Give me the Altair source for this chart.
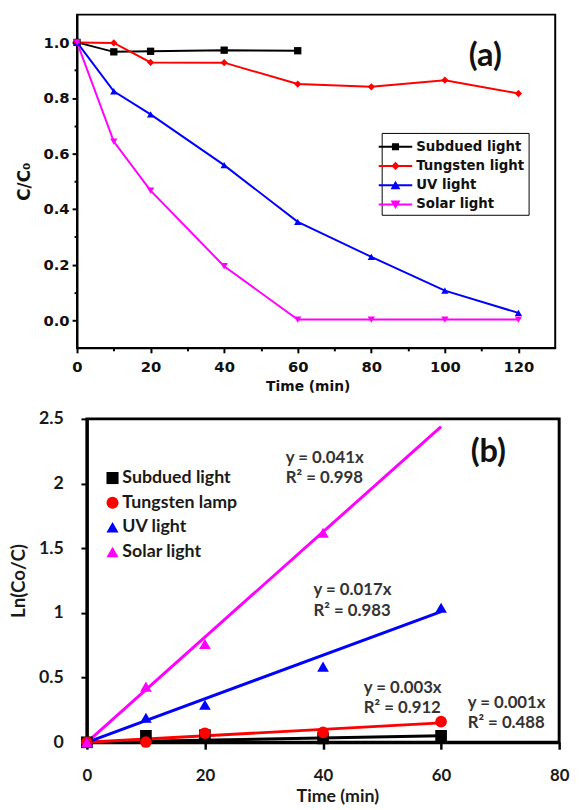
import altair as alt
import pandas as pd

# ---------------- panel (a) data ----------------
A_SERIES = ["Subdued light", "Tungsten light", "UV light", "Solar light"]
A_COLORS = ["#000000", "#ff0000", "#0000ff", "#ff00ff"]
A_SHAPES = ["square", "diamond", "triangle-up", "triangle-down"]

a_time_subdued = [0, 10, 20, 40, 60]
a_subdued = [1.0, 0.966, 0.968, 0.972, 0.97]
a_time = [0, 10, 20, 40, 60, 80, 100, 120]
a_tungsten = [1.0, 0.998, 0.928, 0.927, 0.850, 0.840, 0.864, 0.816]
a_uv = [1.0, 0.824, 0.741, 0.558, 0.354, 0.228, 0.106, 0.026]
a_solar = [1.0, 0.643, 0.466, 0.194, 0.002, 0.002, 0.002, 0.002]

a_xticks = [0, 10, 20, 30, 40, 50, 60, 70, 80, 90, 100, 110, 120]
a_yticks = [0.0, 0.1, 0.2, 0.3, 0.4, 0.5, 0.6, 0.7, 0.8, 0.9, 1.0]

a_tag_x = [111]
a_tag_y = [0.95]
a_tag_text = ["(a)"]

# ---------------- panel (b) data ----------------
B_SERIES = ["Subdued light", "Tungsten lamp", "UV light", "Solar light"]
B_COLORS = ["#000000", "#ff0000", "#0000ff", "#ff00ff"]
B_SHAPES = ["square", "circle", "triangle-up", "triangle-up"]

b_time = [0, 10, 20, 40, 60]
b_subdued = [0.0, 0.05, 0.055, 0.03, 0.05]
b_tungsten = [0.0, 0.002, 0.07, 0.076, 0.16]
b_uv = [0.0, 0.19, 0.29, 0.585, 1.04]
b_time_solar = [0, 10, 20, 40]
b_solar = [0.0, 0.43, 0.76, 1.62]

b_fit_time = [0, 60]
b_fit_subdued = [0.0, 0.05]
b_fit_tungsten = [0.0, 0.15]
b_fit_uv = [0.0, 1.01]
b_fit_solar = [0.0, 2.44]

b_xticks = [0, 20, 40, 60, 80]
b_yticks = [0, 0.5, 1, 1.5, 2, 2.5]

b_note_x = [33.7, 33.7, 38.4, 38.4, 46.9, 46.9, 64.5, 64.5]
b_note_y = [2.195, 2.04, 1.18, 1.015, 0.42, 0.265, 0.305, 0.145]
b_note_text = ["y = 0.041x", "R\u00b2 = 0.998", "y = 0.017x", "R\u00b2 = 0.983",
               "y = 0.003x", "R\u00b2 = 0.912", "y = 0.001x", "R\u00b2 = 0.488"]

b_tag_x = [68]
b_tag_y = [2.24]
b_tag_text = ["(b)"]

# legend glyphs for panel (a): line with marker in the middle (unit = 10 px)
A_LEGEND_PATHS = [
    "M-2.6,0M-1.7,-0.1H1.7V0.1H-1.7ZM-0.36,-0.36H0.36V0.36H-0.36Z",
    "M-2.6,0M-1.7,-0.1H1.7V0.1H-1.7ZM0,-0.42L0.42,0L0,0.42L-0.42,0Z",
    "M-2.6,0M-1.7,-0.1H1.7V0.1H-1.7ZM0,-0.46L0.5,0.4H-0.5Z",
    "M-2.6,0M-1.7,-0.1H1.7V0.1H-1.7ZM0,0.46L-0.5,-0.4H0.5Z",
]

FA = "DejaVu Sans"
FB = "Lato"

# ---------------- build panel (a) ----------------
rows = []
for name, xs, ys in [(A_SERIES[0], a_time_subdued, a_subdued),
                     (A_SERIES[1], a_time, a_tungsten),
                     (A_SERIES[2], a_time, a_uv),
                     (A_SERIES[3], a_time, a_solar)]:
    for x, y in zip(xs, ys):
        rows.append({"series": name, "time": x, "value": y})
df_a = pd.DataFrame(rows)
df_a_tag = pd.DataFrame({"time": a_tag_x, "value": a_tag_y, "text": a_tag_text})

xa = alt.X("time:Q", scale=alt.Scale(domain=[0, 130], nice=False, zero=False),
           axis=alt.Axis(values=a_xticks, title="Time (min)", labelFlush=False,
                         labelExpr="datum.value % 20 == 0 ? datum.label : ''",
                         tickSize={"condition": {"test": "datum.value % 20 != 0", "value": 3}, "value": 5},
                         tickColor="black", tickWidth=2, domainColor="black", domainWidth=2,
                         labelFont=FA, labelFontSize=15, labelFontWeight="bold", labelColor="#111",
                         labelPadding=7, grid=False,
                         titleFont=FA, titleFontSize=14, titleFontWeight="bold", titleColor="#111",
                         titlePadding=5, titleX=234))
ya = alt.Y("value:Q", scale=alt.Scale(domain=[-0.1, 1.1], nice=False, zero=False),
           axis=alt.Axis(values=a_yticks, title="C/C\u2080", labelFlush=False,
                         labelExpr="round(datum.value*10) % 2 == 0 ? format(datum.value, '.1f') : ''",
                         tickSize={"condition": {"test": "round(datum.value*10) % 2 == 1", "value": 3}, "value": 5},
                         tickColor="black", tickWidth=2, domainColor="black", domainWidth=2,
                         labelFont=FA, labelFontSize=15, labelFontWeight="bold", labelColor="#111",
                         labelPadding=3, grid=False,
                         titleFont=FA, titleFontSize=17, titleFontWeight="bold", titleColor="#111",
                         titlePadding=10))

col_a = alt.Color("series:N", scale=alt.Scale(domain=A_SERIES, range=A_COLORS), legend=None)

lines_a = alt.Chart(df_a).mark_line(strokeWidth=2).encode(x=xa, y=ya, color=col_a)
points_a = alt.Chart(df_a).mark_point(filled=True, size=55, opacity=1).encode(
    x=xa, y=ya, color=col_a,
    shape=alt.Shape("series:N", scale=alt.Scale(domain=A_SERIES, range=A_SHAPES), legend=None))

leg_a = dict(orient="none", legendX=309, legendY=120, title=None,
             strokeColor="black", padding=4, symbolSize=400, symbolStrokeWidth=0,
             symbolOpacity=1, labelFont=FA, labelFontSize=13.5, labelFontWeight="bold",
             labelColor="#111", labelOffset=11, rowPadding=2.5)
legend_a = alt.Chart(df_a).mark_point(filled=True, opacity=0).encode(
    x=xa, y=ya,
    color=alt.Color("series:N", scale=alt.Scale(domain=A_SERIES, range=A_COLORS), legend=alt.Legend(**leg_a)),
    shape=alt.Shape("series:N", scale=alt.Scale(domain=A_SERIES, range=A_LEGEND_PATHS), legend=alt.Legend(**leg_a)))

tag_a = alt.Chart(df_a_tag).mark_text(font=FB, fontSize=33, fontWeight="bold", color="#111",
                                     align="center", baseline="middle").encode(x=xa, y=ya, text="text:N")

chart_a = alt.layer(lines_a, points_a, legend_a, tag_a).resolve_scale(
    color="independent", shape="independent").properties(
    width=485, height=338, view=alt.ViewBackground(stroke="black", strokeWidth=2))

# ---------------- build panel (b) ----------------
rows = []
for name, xs, ys in [(B_SERIES[0], b_time, b_subdued),
                     (B_SERIES[1], b_time, b_tungsten),
                     (B_SERIES[2], b_time, b_uv),
                     (B_SERIES[3], b_time_solar, b_solar)]:
    for x, y in zip(xs, ys):
        rows.append({"series": name, "time": x, "value": y})
df_b = pd.DataFrame(rows)

rows = []
for name, ys in [(B_SERIES[0], b_fit_subdued), (B_SERIES[1], b_fit_tungsten),
                 (B_SERIES[2], b_fit_uv), (B_SERIES[3], b_fit_solar)]:
    for x, y in zip(b_fit_time, ys):
        rows.append({"series": name, "time": x, "value": y})
df_b_fit = pd.DataFrame(rows)
df_b_note = pd.DataFrame({"time": b_note_x, "value": b_note_y, "text": b_note_text})
df_b_tag = pd.DataFrame({"time": b_tag_x, "value": b_tag_y, "text": b_tag_text})

xb = alt.X("time:Q", scale=alt.Scale(domain=[0, 80], nice=False, zero=False),
           axis=alt.Axis(values=b_xticks, title="Time (min)", labelFlush=False,
                         tickSize=7, tickColor="black", tickWidth=2.5,
                         domainColor="black", domainWidth=3,
                         labelFont=FB, labelFontSize=17, labelFontWeight="bold", labelColor="#1a1a1a",
                         labelPadding=19, grid=False,
                         titleFont=FB, titleFontSize=18, titleFontWeight="bold", titleColor="#1a1a1a",
                         titlePadding=4, titleX=254))
yb = alt.Y("value:Q", scale=alt.Scale(domain=[0, 2.5], nice=False, zero=False),
           axis=alt.Axis(values=b_yticks, title="Ln(Co/C)", format="~g", labelFlush=False,
                         tickSize=6, tickColor="black", tickWidth=2,
                         domainColor="black", domainWidth=3,
                         labelFont=FB, labelFontSize=18, labelFontWeight="bold", labelColor="#1a1a1a",
                         labelPadding=18, grid=False,
                         titleFont=FB, titleFontSize=19, titleFontWeight="bold", titleColor="#1a1a1a",
                         titlePadding=10))

col_b_plain = alt.Color("series:N", scale=alt.Scale(domain=B_SERIES, range=B_COLORS), legend=None)
leg_b = dict(orient="none", legendX=17, legendY=51, title=None, padding=0,
             symbolSize=150, symbolStrokeWidth=0, symbolOpacity=1, labelFont=FB, labelFontSize=18,
             labelFontWeight="bold", labelColor="#1a1a1a", labelOffset=1, rowPadding=7)

fits_b = alt.Chart(df_b_fit).mark_line(strokeWidth=3).encode(x=xb, y=yb, color=col_b_plain)
points_b = alt.Chart(df_b).mark_point(filled=True, size=140, opacity=1).encode(
    x=xb, y=yb,
    color=alt.Color("series:N", scale=alt.Scale(domain=B_SERIES, range=B_COLORS), legend=alt.Legend(**leg_b)),
    shape=alt.Shape("series:N", scale=alt.Scale(domain=B_SERIES, range=B_SHAPES), legend=alt.Legend(**leg_b)))
notes_b = alt.Chart(df_b_note).mark_text(font=FB, fontSize=17, fontWeight="bold", color="#333",
                                        align="left", baseline="middle").encode(x=xb, y=yb, text="text:N")
tag_b = alt.Chart(df_b_tag).mark_text(font=FB, fontSize=33, fontWeight="bold", color="#111",
                                     align="center", baseline="middle").encode(x=xb, y=yb, text="text:N")

chart_b = alt.layer(fits_b, points_b, notes_b, tag_b).resolve_scale(
    color="independent", shape="independent").properties(
    width=479, height=328, view=alt.ViewBackground(stroke="black", strokeWidth=3))

# invisible 1px spacer: shifts panel (b)'s plot area right of panel (a)'s
df_spacer = pd.DataFrame({"v": [0]})
spacer = alt.Chart(df_spacer).mark_point(opacity=0).encode(
    x=alt.value(0), y=alt.value(0)).properties(
    width=1, height=1, view=alt.ViewBackground(strokeOpacity=0))
row_b = alt.HConcatChart(hconcat=[spacer, chart_b], spacing=9, bounds="flush")

chart = alt.VConcatChart(vconcat=[chart_a, row_b], spacing=14).properties(
    padding={"left": 0, "top": 0, "right": 0, "bottom": 0}
).configure(background="white")

chart.save("out.html", embed_options={"renderer": "svg", "actions": False})
